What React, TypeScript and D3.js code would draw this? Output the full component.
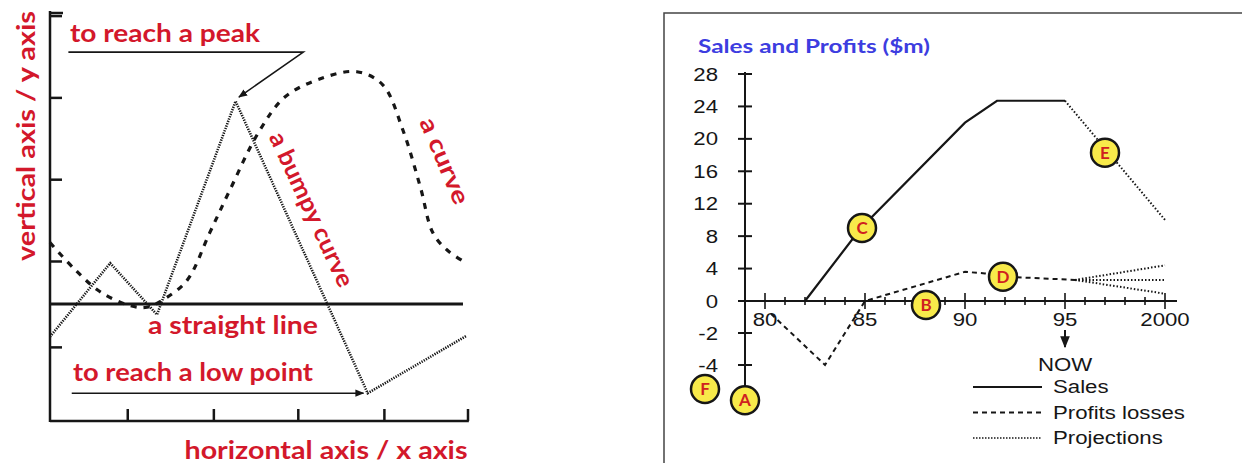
import React from "react";
import * as d3 from "d3";

// ---- left sketch: generic line shapes (arbitrary units) ----
const bumpyX = [0, 0.72, 1.28, 2.22, 3.8, 4.98];
const bumpyY = [1.03, 1.93, 1.3, 3.91, 0.34, 1.04];
const curveX = [0, 0.3, 0.6, 0.96, 1.16, 1.38, 1.64, 1.91, 2.15, 2.49, 2.81, 3.25, 3.67, 3.98, 4.22, 4.43, 4.58, 4.75, 4.98];
const curveY = [2.18, 1.85, 1.58, 1.41, 1.39, 1.5, 1.72, 2.3, 2.82, 3.52, 3.96, 4.19, 4.27, 4.11, 3.56, 2.86, 2.3, 2.09, 1.93];
const straightX = [0, 4.94];
const straightY = [1.43, 1.43];
const sketchXTicks = [0.93, 1.96, 2.97, 4, 5];
const sketchYTicks = [0.9, 1.95, 2.95, 3.95, 4.95];

// ---- right chart: sales and profits ($m) ----
const salesYears = [1982, 1984.8, 1990, 1991.6, 1995];
const salesValues = [0, 9, 22, 24.7, 24.7];
const salesProjYears = [1995, 2000];
const salesProjValues = [24.7, 10];
const profitYears = [1980.3, 1983, 1985, 1990, 1991, 1992, 1995.5];
const profitValues = [-0.8, -4, 0, 3.6, 3.4, 3.0, 2.6];
const profitProjEnds = [4.4, 2.6, 0.9];
const yTickValues = [28, 24, 20, 16, 12, 8, 4, 0, -2, -4];
const xMajorYears = [1980, 1985, 1990, 1995, 2000];
const xTickLabels = ["80", "85", "90", "95", "2000"];
const markerLetters = ["A", "B", "C", "D", "E", "F"];
const markerYears = [1979, 1988.05, 1984.85, 1991.9, 1997, 1977];
const markerValues = [-6.2, -0.25, 9, 3, 18.3, -5.5];
const legendLabels = ["Sales", "Profits losses", "Projections"];

const RED = "#d3182b";
const INK = "#161616";
const comic = "'Comic Sans MS', Lato, sans-serif";
const sans = "'Liberation Sans', Arial, sans-serif";

export default function App() {
  // left scales
  const xL = d3.scaleLinear().domain([0, 5]).range([50, 468]);
  const yL = d3.scaleLinear().domain([0, 5]).range([421, 12]);
  const lineL = (xs: number[], ys: number[], curve: any = d3.curveLinear) =>
    d3
      .line<number>()
      .x((d) => xL(xs[d]))
      .y((d) => yL(ys[d]))
      .curve(curve)(d3.range(xs.length)) as string;

  // right scales (negative part is drawn at double scale, as in the original)
  const xR = d3.scaleLinear().domain([1980, 2000]).range([765, 1165]);
  const yR = d3.scaleLinear().domain([-4, 0, 28]).range([365, 301, 74]);
  const lineR = (xs: number[], ys: number[]) =>
    d3
      .line<number>()
      .x((d) => xR(xs[d]))
      .y((d) => yR(ys[d]))(d3.range(xs.length)) as string;

  const allYears = d3.range(1980, 2001);
  const axisX = xR(1979);
  const r = 14;
  const lastP = profitYears.length - 1;

  const label = (t: string, x: number, y: number, len: number, size = 24, rot = 0) => (
    <text
      transform={`translate(${x},${y}) rotate(${rot})`}
      textAnchor="middle"
      fontFamily={comic}
      fontWeight="bold"
      fontSize={size}
      fill={RED}
      textLength={len}
      lengthAdjust="spacingAndGlyphs"
    >
      {t}
    </text>
  );

  const sansText = (t: string, x: number, y: number, anchor = "start") => (
    <text
      transform={`translate(${x},${y}) scale(1.2,1)`}
      textAnchor={anchor}
      fontFamily={sans}
      fontSize={18.5}
      fill={INK}
    >
      {t}
    </text>
  );

  return (
    <div style={{ position: "absolute", left: 0, top: 0 }}>
      <svg width={1242} height={463} style={{ display: "block", background: "#fff" }}>
        <defs>
          <marker id="arr" viewBox="0 0 10 10" refX="9" refY="5" markerWidth="9" markerHeight="9" orient="auto" markerUnits="userSpaceOnUse">
            <path d="M0,1 L10,5 L0,9 Z" fill={INK} />
          </marker>
          <marker id="arrBig" viewBox="0 0 10 10" refX="9" refY="5" markerWidth="12" markerHeight="12" orient="auto" markerUnits="userSpaceOnUse">
            <path d="M0,1 L10,5 L0,9 Z" fill={INK} />
          </marker>
        </defs>

        {/* ===== left sketch ===== */}
        <g>
          <line x1={xL(0)} x2={xL(0)} y1={yL(5) - 1} y2={yL(0) + 1} stroke={INK} strokeWidth={2.5} />
          <line x1={xL(0)} x2={xL(5.01)} y1={yL(0)} y2={yL(0)} stroke={INK} strokeWidth={2.5} />
          <line x1={xL(0)} x2={xL(0) + 13} y1={yL(5) + 1} y2={yL(5) + 1} stroke={INK} strokeWidth={2.5} />
          {sketchYTicks.map((v) => (
            <line key={v} x1={xL(0)} x2={xL(0) + 12} y1={yL(v)} y2={yL(v)} stroke={INK} strokeWidth={2.5} />
          ))}
          {sketchXTicks.map((v) => (
            <line key={v} x1={xL(v)} x2={xL(v)} y1={yL(0)} y2={yL(0) - 12} stroke={INK} strokeWidth={2.5} />
          ))}

          <path d={lineL(straightX, straightY)} fill="none" stroke={INK} strokeWidth={3} />
          <path d={lineL(bumpyX, bumpyY)} fill="none" stroke={INK} strokeWidth={2.6} strokeDasharray="1.3 1.2" />
          <path d={lineL(curveX, curveY, d3.curveCatmullRom)} fill="none" stroke={INK} strokeWidth={3.2} strokeDasharray="6 7" />

          {/* annotation arrows */}
          <polyline
            points={`${xL(0.22)},${yL(4.51)} ${xL(3.03)},${yL(4.51)} ${xL(2.26)},${yL(3.96)}`}
            fill="none"
            stroke={INK}
            strokeWidth={1.6}
            markerEnd="url(#arr)"
          />
          <line x1={xL(0.26)} x2={xL(3.75)} y1={yL(0.34)} y2={yL(0.34)} stroke={INK} strokeWidth={1.6} markerEnd="url(#arr)" />

          {label("to reach a peak", 165, 42, 190)}
          {label("vertical axis / y axis", 35, 136, 250, 25, -90)}
          {label("a bumpy curve", 304, 213, 168, 24, 65)}
          {label("a curve", 437, 164, 92, 24, 67)}
          {label("a straight line", 233, 334, 170)}
          {label("to reach a low point", 193, 381, 240)}
          {label("horizontal axis / x axis", 326, 459, 283)}
        </g>

        {/* ===== right chart ===== */}
        <g>
          <path d="M664,463 V13 H1242" fill="none" stroke="#444" strokeWidth={1.5} />
          <text
            x={698}
            y={53}
            fontFamily={comic}
            fontWeight="bold"
            fontSize={18}
            fill="#3d3de0"
            textLength={232}
            lengthAdjust="spacingAndGlyphs"
          >
            Sales and Profits ($m)
          </text>

          {/* y axis */}
          <line x1={axisX} x2={axisX} y1={yR(28) - 2} y2={yR(markerValues[0]) - r} stroke={INK} strokeWidth={2} />
          {yTickValues.map((v) => (
            <g key={v}>
              <line x1={axisX - 7} x2={axisX + 7} y1={yR(v)} y2={yR(v)} stroke={INK} strokeWidth={2} />
              {sansText(String(v), 718, yR(v) + 6.5, "end")}
            </g>
          ))}

          {/* x axis */}
          <line x1={axisX} x2={xR(2000.6)} y1={yR(0)} y2={yR(0)} stroke={INK} strokeWidth={2} />
          {allYears.map((yr) => {
            const major = xMajorYears.includes(yr);
            return (
              <line
                key={yr}
                x1={xR(yr)}
                x2={xR(yr)}
                y1={yR(0) - (major ? 8 : 4)}
                y2={yR(0) + (major ? 8 : 4)}
                stroke={INK}
                strokeWidth={1.6}
              />
            );
          })}
          {xMajorYears.map((yr, i) => (
            <g key={yr}>{sansText(xTickLabels[i], xR(yr), 326, "middle")}</g>
          ))}

          {/* series */}
          <path d={lineR(salesYears, salesValues)} fill="none" stroke={INK} strokeWidth={2.2} />
          <path d={lineR(salesProjYears, salesProjValues)} fill="none" stroke={INK} strokeWidth={2} strokeDasharray="1.5 2" />
          <path d={lineR(profitYears, profitValues)} fill="none" stroke={INK} strokeWidth={2} strokeDasharray="5 4" />
          {profitProjEnds.map((v) => (
            <path
              key={v}
              d={lineR([profitYears[lastP], 2000], [profitValues[lastP], v])}
              fill="none"
              stroke={INK}
              strokeWidth={2}
              strokeDasharray="1.5 2"
            />
          ))}

          {/* NOW */}
          <line x1={xR(1995)} x2={xR(1995)} y1={330} y2={347} stroke={INK} strokeWidth={2} markerEnd="url(#arrBig)" />
          {sansText("NOW", xR(1995), 371, "middle")}

          {/* legend */}
          {legendLabels.map((t, i) => (
            <g key={t}>
              <line
                x1={973}
                x2={1042}
                y1={387 + i * 25.5}
                y2={387 + i * 25.5}
                stroke={INK}
                strokeWidth={i === 0 ? 2.2 : i === 1 ? 2 : 1.5}
                strokeDasharray={i === 0 ? undefined : i === 1 ? "5 4" : "1.5 1.5"}
              />
              {sansText(t, 1053, 393 + i * 25.5)}
            </g>
          ))}

          {/* letter markers */}
          {markerLetters.map((m, i) => (
            <g key={m} transform={`translate(${xR(markerYears[i])},${yR(markerValues[i])})`}>
              <circle r={r} fill="#f8ea4a" stroke={INK} strokeWidth={2.5} />
              <text y={6} textAnchor="middle" fontFamily={comic} fontWeight="bold" fontSize={17} fill="#cf2020">
                {m}
              </text>
            </g>
          ))}
        </g>
      </svg>
    </div>
  );
}
